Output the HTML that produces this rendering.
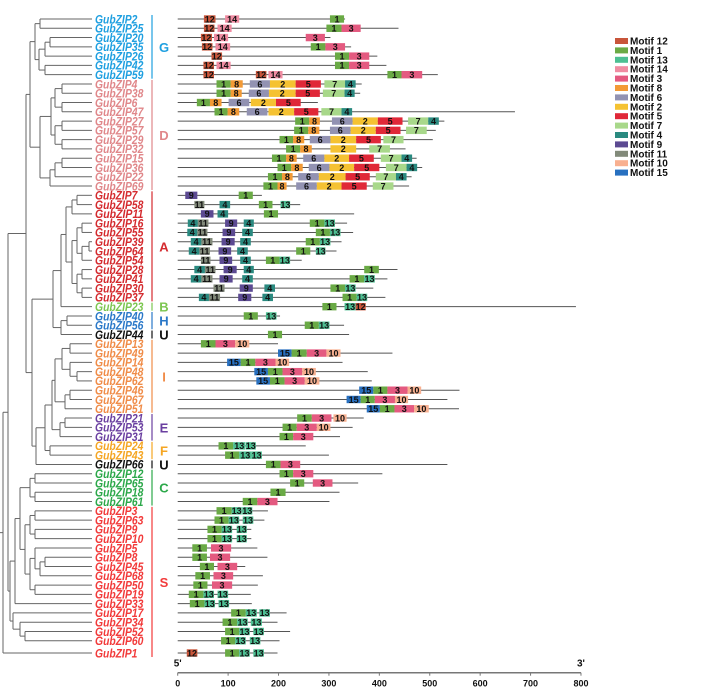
<!DOCTYPE html>
<html><head><meta charset="utf-8"><style>
html,body{margin:0;padding:0;background:#fff;}
svg{display:block;font-family:"Liberation Sans",sans-serif;}
</style></head><body>
<svg id="chart" width="726" height="692" viewBox="0 0 726 692" xmlns="http://www.w3.org/2000/svg"></svg>
<script>
const geneNames=["GubZIP2","GubZIP25","GubZIP20","GubZIP35","GubZIP26","GubZIP42","GubZIP59","GubZIP4","GubZIP38","GubZIP6","GubZIP47","GubZIP27","GubZIP57","GubZIP29","GubZIP32","GubZIP15","GubZIP36","GubZIP22","GubZIP69","GubZIP7","GubZIP58","GubZIP11","GubZIP16","GubZIP55","GubZIP39","GubZIP64","GubZIP54","GubZIP28","GubZIP41","GubZIP30","GubZIP37","GubZIP23","GubZIP40","GubZIP56","GubZIP44","GubZIP13","GubZIP49","GubZIP14","GubZIP48","GubZIP62","GubZIP46","GubZIP67","GubZIP51","GubZIP21","GubZIP53","GubZIP31","GubZIP24","GubZIP43","GubZIP66","GubZIP12","GubZIP65","GubZIP18","GubZIP61","GubZIP3","GubZIP63","GubZIP9","GubZIP10","GubZIP5","GubZIP8","GubZIP45","GubZIP68","GubZIP50","GubZIP19","GubZIP33","GubZIP17","GubZIP34","GubZIP52","GubZIP60","GubZIP1"];
const geneLengths=[332,438,303,344,396,414,516,365,362,278,669,529,512,506,452,474,485,464,459,167,243,350,336,348,325,315,246,436,416,388,412,790,203,330,340,199,426,327,377,385,559,535,558,369,347,322,254,300,535,406,358,321,301,179,172,146,146,158,178,134,169,159,145,147,216,198,223,202,198];
const geneMotifs=[
[[12,52,75],[14,94,122],[1,302,330]],
[[12,52,73],[14,79,107],[1,295,325],[3,325,363]],
[[12,46,68],[14,72,100],[3,254,292]],
[[12,48,69],[14,75,104],[1,264,293],[3,293,332]],
[[12,67,88],[1,312,340],[3,340,380]],
[[12,51,72],[14,77,105],[1,312,340],[3,340,380]],
[[12,51,72],[12,155,176],[14,180,208],[1,416,444],[3,444,485]],
[[1,77,105],[8,105,129],[6,143,183],[2,183,234],[5,234,284],[7,291,332],[4,332,353]],
[[1,77,105],[8,105,127],[6,141,181],[2,181,234],[5,234,282],[7,288,331],[4,331,351]],
[[1,38,64],[8,64,87],[6,101,142],[2,145,195],[5,195,244]],
[[1,73,99],[8,99,122],[6,137,178],[2,180,231],[5,231,279],[7,285,325],[4,325,346]],
[[1,233,261],[8,261,282],[6,306,347],[2,347,397],[5,397,446],[7,457,497],[4,497,518]],
[[1,231,259],[8,259,281],[6,302,343],[2,343,393],[5,393,442],[7,453,494]],
[[1,202,229],[8,229,251],[6,262,303],[2,303,354],[5,354,403],[7,408,448]],
[[1,215,243],[8,243,266],[2,303,354],[7,380,421]],
[[1,187,215],[8,215,236],[6,249,291],[2,291,340],[5,340,389],[7,403,444],[4,444,465]],
[[1,198,225],[8,225,248],[6,260,301],[2,301,350],[5,350,400],[7,413,454],[4,454,475]],
[[1,179,207],[8,207,228],[6,239,280],[2,280,333],[5,333,381],[7,393,433],[4,433,454]],
[[1,170,198],[8,198,216],[6,235,276],[2,276,325],[5,325,375],[7,387,428]],
[[9,15,39],[1,121,149]],
[[11,33,53],[4,83,104],[1,161,188],[13,204,223]],
[[9,46,71],[4,79,100],[1,171,199]],
[[4,20,40],[11,40,61],[9,94,118],[4,131,151],[1,262,291],[13,291,312]],
[[4,19,39],[11,39,59],[9,89,114],[4,128,149],[1,274,302],[13,302,323]],
[[4,26,47],[11,47,69],[9,87,113],[4,124,145],[1,254,282],[13,282,303]],
[[4,22,43],[11,43,64],[9,81,106],[4,118,139],[1,235,263],[13,274,293]],
[[11,46,65],[9,83,108],[4,124,145],[1,175,202],[13,202,223]],
[[4,33,54],[11,54,75],[9,91,117],[4,131,151],[1,370,399]],
[[4,26,47],[11,47,69],[9,83,109],[4,128,149],[1,341,370],[13,370,391]],
[[11,71,93],[9,123,149],[4,172,193],[1,303,332],[13,332,353]],
[[4,42,62],[11,62,84],[9,120,146],[4,168,189],[1,327,355],[13,355,376]],
[[1,287,315],[13,331,353],[12,353,373]],
[[1,131,159],[13,175,196]],
[[1,252,280],[13,280,301]],
[[1,179,207]],
[[1,46,75],[3,75,114],[10,114,142]],
[[15,199,226],[1,226,256],[3,256,295],[10,295,323]],
[[15,98,125],[1,125,154],[3,154,194],[10,194,221]],
[[15,152,179],[1,179,208],[3,208,247],[10,247,274]],
[[15,156,183],[1,183,212],[3,212,252],[10,252,281]],
[[15,360,388],[1,388,416],[3,416,456],[10,456,483]],
[[15,335,363],[1,363,391],[3,391,431],[10,431,457]],
[[15,375,401],[1,401,430],[3,430,469],[10,469,498]],
[[1,237,266],[3,266,305],[10,309,335]],
[[1,208,236],[3,236,276],[10,276,303]],
[[1,202,229],[3,229,269]],
[[1,81,110],[13,110,134],[13,135,155]],
[[1,94,122],[13,122,146],[13,146,167]],
[[1,175,204],[3,204,243]],
[[1,202,229],[3,229,269]],
[[1,223,251],[3,268,307]],
[[1,184,214]],
[[1,129,158],[3,158,198]],
[[1,77,107],[13,107,127],[13,128,148]],
[[1,73,101],[13,101,122],[13,129,150]],
[[1,59,87],[13,87,108],[13,117,137]],
[[1,59,87],[13,87,108],[13,117,137]],
[[1,29,58],[3,66,106]],
[[1,29,58],[3,64,104]],
[[1,44,72],[3,79,118]],
[[1,35,64],[3,71,110]],
[[1,31,59],[3,68,108]],
[[1,22,51],[13,51,72],[13,79,100]],
[[1,24,53],[13,53,74],[13,81,102]],
[[1,106,135],[13,135,157],[13,162,183]],
[[1,89,118],[13,118,139],[13,145,167]],
[[1,94,122],[13,122,143],[13,150,171]],
[[1,86,114],[13,114,135],[13,143,164]],
[[12,18,39],[1,94,122],[13,122,143],[13,150,171]]
];
const groupLetters=["G","D","A","B","H","U","I","E","F","U","C","S"];
const groupStart=[0,7,19,31,32,34,35,43,46,48,49,53];
const groupEnd=[6,18,30,31,33,34,42,45,47,48,52,68];
const groupColors=["#1e9fe0","#e0878a","#d42a2e","#7cc650","#2a78c8","#111111","#f08c48","#6a3fa0","#f5a623","#111111","#2ca84a","#f23a3a"];
const legendMotifs=[12,1,13,14,3,8,6,2,5,7,4,9,11,10,15];
const axisTicks=[0,100,200,300,400,500,600,700,800];
const motifColors={12:"#c8553a",1:"#6aaa45",13:"#4dbf92",14:"#f08ca2",3:"#e45a80",8:"#f39a35",6:"#9292b2",2:"#f5c232",5:"#e02838",7:"#a8d88a",4:"#2a8a80",9:"#5c4a92",11:"#828a7a",10:"#f8b090",15:"#2870c0"};
const tree=[3,[8,[26,[30,[35,[40,0,1],[39,[45,[50,2,3],4],[45,5,6]]],[40,[51,[55,[62,7,8],[62,9,10]],[55,[62,11,12],[62,13,14]]],[50,[55,[62,15,16],17],18]]],[32,[53,[61,[66,[72,[77,19,20],21],[72,[77,[82,22,23],[82,[89,24,25],26]],[77,[82,27,28],[82,29,30]]]],31],[61,[67,32,33],34]],[36,[45,[52,[55,[62,[70,35,36],[70,37,[77,38,39]]],[65,[70,40,41],42]],[60,[65,43,44],45]],[50,46,47]],48]]],[10,[15,[20,[30,[35,49,50],[35,51,52]],[25,[30,[35,53,54],[35,55,56]],[30,[35,57,[40,[45,58,59],60]],[35,61,62]]]],63],[13,64,[20,65,[25,66,67]]]]],68];

const NS="http://www.w3.org/2000/svg";
const svg=document.getElementById("chart");
const X0=177.7,XS=0.5041;
function xScale(v){return X0+v*XS;}
function yRow(i){return i<68?19+i*9.28:653;}
function mk(tag,attrs,parent){const e=document.createElementNS(NS,tag);for(const k in attrs)e.setAttribute(k,attrs[k]);(parent||svg).appendChild(e);return e;}

const treeG=mk("g",{});


const LEAFX=92;
function drawNode(n){
  if(typeof n==="number") return {x:LEAFX,y:yRow(n)};
  const x=n[0];const ys=[];
  for(let i=1;i<n.length;i++){const c=drawNode(n[i]);
    mk("line",{x1:x,y1:c.y,x2:c.x,y2:c.y,stroke:"#666","stroke-width":1},treeG);ys.push(c.y);}
  const y0=Math.min(...ys),y1=Math.max(...ys);
  mk("line",{x1:x,y1:y0,x2:x,y2:y1,stroke:"#666","stroke-width":1},treeG);
  return {x:x,y:(y0+y1)/2};
}
const root=drawNode(tree);
mk("line",{x1:0,y1:root.y,x2:root.x,y2:root.y,stroke:"#666","stroke-width":1},treeG);

const rowColor=[];
groupLetters.forEach((g,gi)=>{for(let r=groupStart[gi];r<=groupEnd[gi];r++)rowColor[r]=groupColors[gi];});

geneNames.forEach((name,i)=>{
  const y=yRow(i);
  const t=mk("text",{x:95,y:y+4.3,"font-size":"12","font-weight":"bold","font-style":"italic",fill:rowColor[i],textLength:(name.length*6.05).toFixed(1),lengthAdjust:"spacingAndGlyphs"});
  t.textContent=name;
  
  
  const g=mk("g",{});
  
  
  mk("line",{x1:xScale(0),y1:y,x2:xScale(geneLengths[i]),y2:y,stroke:"#555","stroke-width":1},g);
  geneMotifs[i].forEach(m=>{
    const x1=xScale(m[1]),x2=xScale(m[2]);
    const r=mk("rect",{x:x1,y:y-3.7,width:x2-x1,height:7.4,fill:motifColors[m[0]]},g);
    
    
    const tt=mk("text",{x:(x1+x2)/2,y:y+3.3,"font-size":"9","font-weight":"bold","text-anchor":"middle",fill:"#111"},g);
    tt.textContent=String(m[0]);
  });
});

groupLetters.forEach((g,gi)=>{
  const y0=yRow(groupStart[gi])-4,y1=yRow(groupEnd[gi])+4;
  const b=mk("line",{x1:152,y1:y0,x2:152,y2:y1,stroke:groupColors[gi],"stroke-width":1.2});
  
  
  const t=mk("text",{x:164,y:(y0+y1)/2+5,"font-size":"13","font-weight":"bold","text-anchor":"middle",fill:groupColors[gi]});
  t.textContent=g;
  
  
});

legendMotifs.forEach((m,i)=>{
  const y=41+i*9.4;
  const g=mk("g",{});
  
  
  mk("rect",{x:615,y:y-3,width:13,height:6,fill:motifColors[m]},g);
  const t=mk("text",{x:630,y:y+3.5,"font-size":"10","font-weight":"bold",fill:"#111"},g);
  t.textContent="Motif "+m;
});

const ax=mk("g",{});


const AY=672.7;
mk("line",{x1:xScale(0),y1:AY,x2:xScale(800),y2:AY,stroke:"#777","stroke-width":1.5},ax);
axisTicks.forEach(v=>{
  mk("line",{x1:xScale(v),y1:AY,x2:xScale(v),y2:AY+3,stroke:"#777","stroke-width":1},ax);
  const t=mk("text",{x:xScale(v),y:AY+14,"font-size":"9","font-weight":"bold","text-anchor":"middle",fill:"#111"},ax);
  t.textContent=String(v);
});
const t5=mk("text",{x:xScale(0),y:AY-6,"font-size":"10","font-weight":"bold","text-anchor":"middle",fill:"#111"},ax);t5.textContent="5'";
const t3=mk("text",{x:xScale(800),y:AY-6,"font-size":"10","font-weight":"bold","text-anchor":"middle",fill:"#111"},ax);t3.textContent="3'";
</script>
</body></html>
